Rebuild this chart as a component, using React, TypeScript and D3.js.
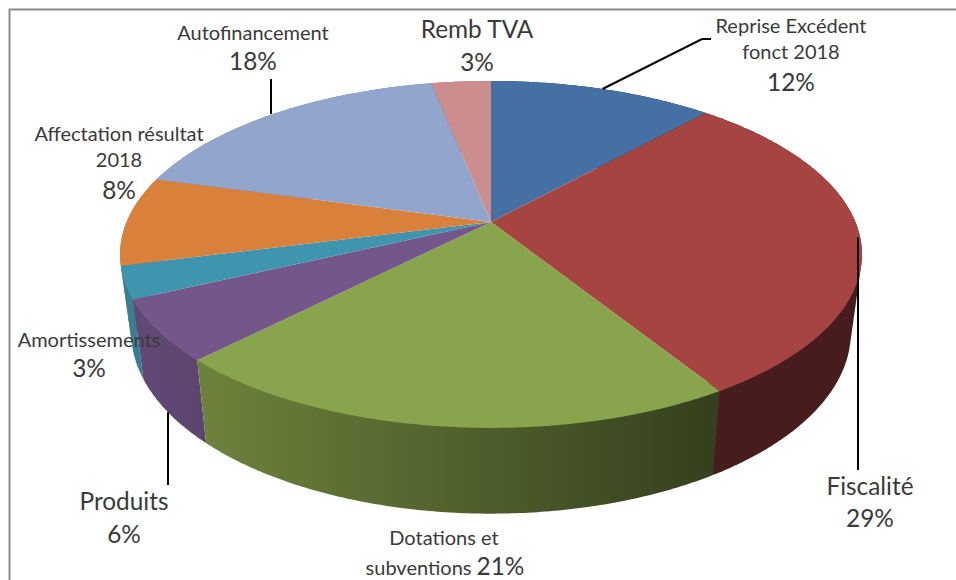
import * as d3 from 'd3';

const categories = ['Reprise Excédent fonct 2018', 'Fiscalité', 'Dotations et subventions', 'Produits', 'Amortissements', 'Affectation résultat 2018', 'Autofinancement', 'Remb TVA'];
// the labels show them rounded
const values = [11.7, 29.45, 21.15, 5.7, 3, 8.3, 17.6, 3.1];
const colors = ['#4470a4', '#a64442', '#88a44c', '#73578b', '#4095ae', '#d9803a', '#92a6cd', '#cc8e8d'];

const width = 956;
const height = 580;

// pie plane seen in perspective, fitted on the reference
const cx = 491;
const cy = 222;
const rx = 364.4;
const ry = 167.4;
const persp = 0.187;

const project = (a: number): [number, number] => {
  const u = Math.sin(a);
  const v = Math.cos(a);
  const w = 1 + persp * v;
  return [cx + (rx * u) / w, cy - (ry * v) / w];
};

// lower rim of the disc
const lower = ([x, y]: [number, number]): [number, number] => [
  cx + (x - cx) * 0.97,
  y + 80 + 0.045 * (y - 300),
];

const rim = (a0: number, a1: number) => {
  const n = Math.max(2, Math.ceil((a1 - a0) / 0.01));
  return d3.range(n + 1).map((i) => project(a0 + ((a1 - a0) * i) / n));
};

const line = d3.line<[number, number]>();

// side wall gets darker to the right
const shade = d3.scaleLinear().domain([120, 712]).range([0.86, 0.39]).clamp(true);

const slices = d3.pie<number>().sort(null).value((d) => d)(values);

function midAngle(i: number) {
  return (slices[i].startAngle + slices[i].endAngle) / 2;
}

// walls are painted from the back of the disc to the front
const wallOrder = d3.range(values.length).sort(
  (a, b) => project(midAngle(a))[1] - project(midAngle(b))[1],
);

const wallColor = (i: number, x: number) => {
  const f = i === 1 ? 0.42 : shade(x);
  const c = d3.rgb(colors[i]);
  return d3.rgb(c.r * f, c.g * f, c.b * f).formatHex();
};

const pct = (i: number) => `${Math.round(values[i])}%`;

interface LabelLine {
  text: string;
  x: number;
  y: number;
  size: number;
}

const small = 20;
const big = 24.4;

const labelLines: LabelLine[][] = [
  [
    { text: 'Reprise Excédent', x: 791, y: 33, size: small },
    { text: 'fonct 2018', x: 791, y: 59, size: small },
    { text: pct(0), x: 791, y: 91, size: big },
  ],
  [
    { text: 'Fiscalité', x: 870, y: 495, size: big },
    { text: pct(1), x: 870, y: 527, size: big },
  ],
  [{ text: 'Dotations et', x: 444, y: 545, size: small }],
  [
    { text: 'Produits', x: 124, y: 510, size: big },
    { text: pct(3), x: 124, y: 543, size: big },
  ],
  [
    { text: 'Amortissements', x: 89, y: 347, size: small },
    { text: pct(4), x: 89, y: 377, size: big },
  ],
  [
    { text: 'Affectation résultat', x: 119, y: 141, size: small },
    { text: '2018', x: 119, y: 167, size: small },
    { text: pct(5), x: 119, y: 199, size: big },
  ],
  [
    { text: 'Autofinancement', x: 253, y: 40, size: small },
    { text: pct(6), x: 253, y: 70, size: big },
  ],
  [
    { text: 'Remb TVA', x: 477, y: 38, size: big },
    { text: pct(7), x: 477, y: 71, size: big },
  ],
];

const leaders: [number, number][][] = [
  [project(midAngle(0)), [702, 39], [711, 39]],
  [[858, project(midAngle(1))[1]], [858, 470]],
  [[168, lower(project(midAngle(3)))[1]], [168, 485]],
  [[271, project(midAngle(6))[1]], [271, 79]],
];

export default function App() {
  return (
    <svg
      width={width}
      height={height}
      style={{ position: 'absolute', left: 0, top: 0, background: '#fff' }}
      fontFamily="Lato, sans-serif"
    >
      <defs>
        {slices.map((s, i) => {
          const xs = rim(s.startAngle, s.endAngle).map((p) => lower(p)[0]);
          const [x0, x1] = d3.extent(xs) as [number, number];
          return (
            <linearGradient key={i} id={`wall-${i}`} gradientUnits="userSpaceOnUse" x1={x0} x2={x1} y1={0} y2={0}>
              <stop offset="0%" stopColor={wallColor(i, x0)} />
              <stop offset="100%" stopColor={wallColor(i, x1)} />
            </linearGradient>
          );
        })}
      </defs>

      <path d={`M9.5 ${height}V9.5H${width}`} fill="none" stroke="#8a8a8a" strokeWidth={2} />

      {wallOrder.map((i) => {
        const top = rim(slices[i].startAngle, slices[i].endAngle);
        // hull so the silhouette runs straight from the top rim to the lower rim
        const hull = d3.polygonHull([...top, ...top.map(lower)]) as [number, number][];
        return <path key={i} d={`${line(hull)}Z`} fill={`url(#wall-${i})`} />;
      })}

      {slices.map((s, i) => (
        <path key={i} d={`M${cx} ${cy}L${line(rim(s.startAngle, s.endAngle))!.slice(1)}Z`} fill={colors[i]} />
      ))}

      {leaders.map((pts, i) => (
        <path key={i} d={line(pts)!} fill="none" stroke="#000" strokeWidth={2} />
      ))}

      <g fill="#3a3a3a" textAnchor="middle">
        {labelLines.map((lines, i) =>
          lines.map((l, j) => (
            <text key={`${i}-${j}`} x={l.x} y={l.y} fontSize={l.size}>
              {l.text}
            </text>
          )),
        )}
        <text x={445} y={575} fontSize={small} aria-label={categories[2]}>
          subventions <tspan fontSize={big}>{pct(2)}</tspan>
        </text>
      </g>
    </svg>
  );
}
